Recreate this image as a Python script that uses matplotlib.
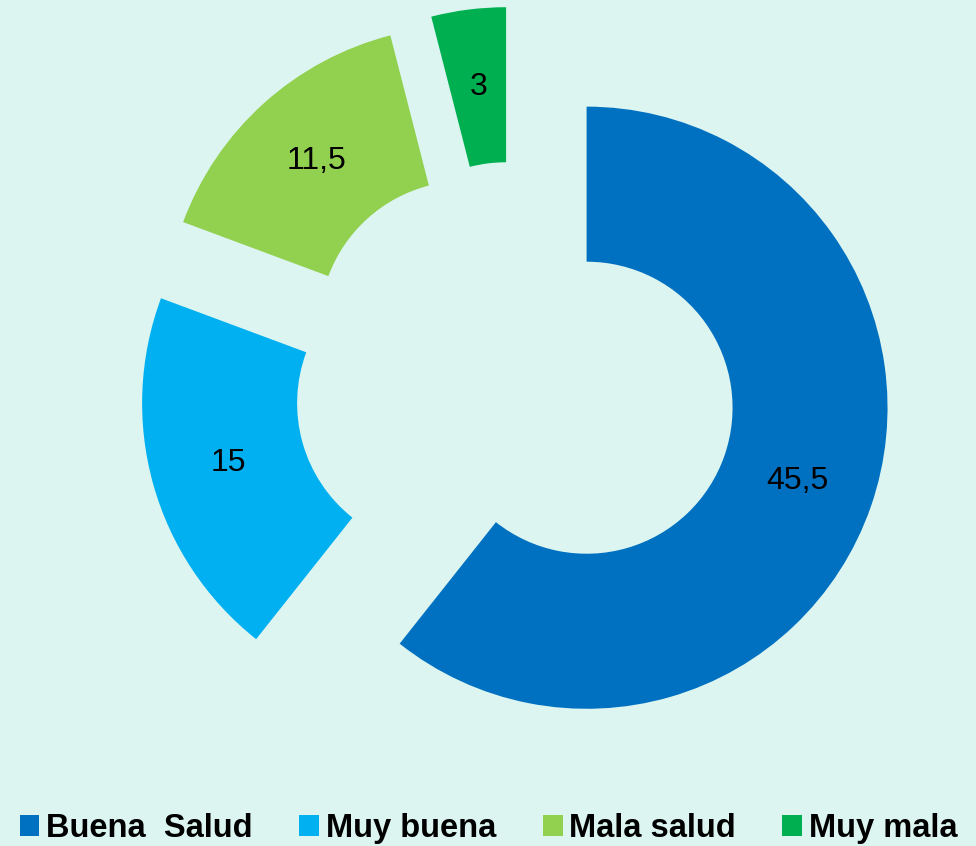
import matplotlib.pyplot as plt

# Datos
categorias = ["Buena  Salud", "Muy buena", "Mala salud", "Muy mala"]
valores = [45.5, 15, 11.5, 3]
colores = ["#0070C0", "#00B0F0", "#92D050", "#00B050"]
fondo = "#DCF5F1"

total = sum(valores)

def etiqueta(p):
    v = p * total / 100.0
    return ("%g" % round(v, 1)).replace(".", ",")

fig = plt.figure(figsize=(9.76, 8.46), dpi=100)
fig.patch.set_facecolor(fondo)
ax = fig.add_axes([0, 0, 1, 1])
ax.set_facecolor(fondo)

wedges, textos, autotextos = ax.pie(
    valores,
    colors=colores,
    startangle=90,
    counterclock=False,
    explode=[0.25] * len(valores),
    radius=1.0,
    wedgeprops=dict(width=0.515, linewidth=0),
    autopct=etiqueta,
    pctdistance=0.74,
    textprops=dict(fontsize=23, color="black", family=["Liberation Sans", "DejaVu Sans"]),
)

ax.set_xlim(-1.713, 1.530)
ax.set_ylim(-1.538, 1.272)
ax.set_aspect("auto")
ax.axis("off")

# leyenda
fig.legend(
    wedges, categorias,
    loc="lower left", bbox_to_anchor=(0.02, 0.002),
    ncol=4, frameon=False,
    handlelength=0.61, handleheight=0.61, handletextpad=0.21,
    columnspacing=1.42, borderpad=0, borderaxespad=0,
    prop=dict(family=["Liberation Sans"], weight="bold", size=23.5),
)

fig.savefig("out.png", dpi=100, facecolor=fondo)
